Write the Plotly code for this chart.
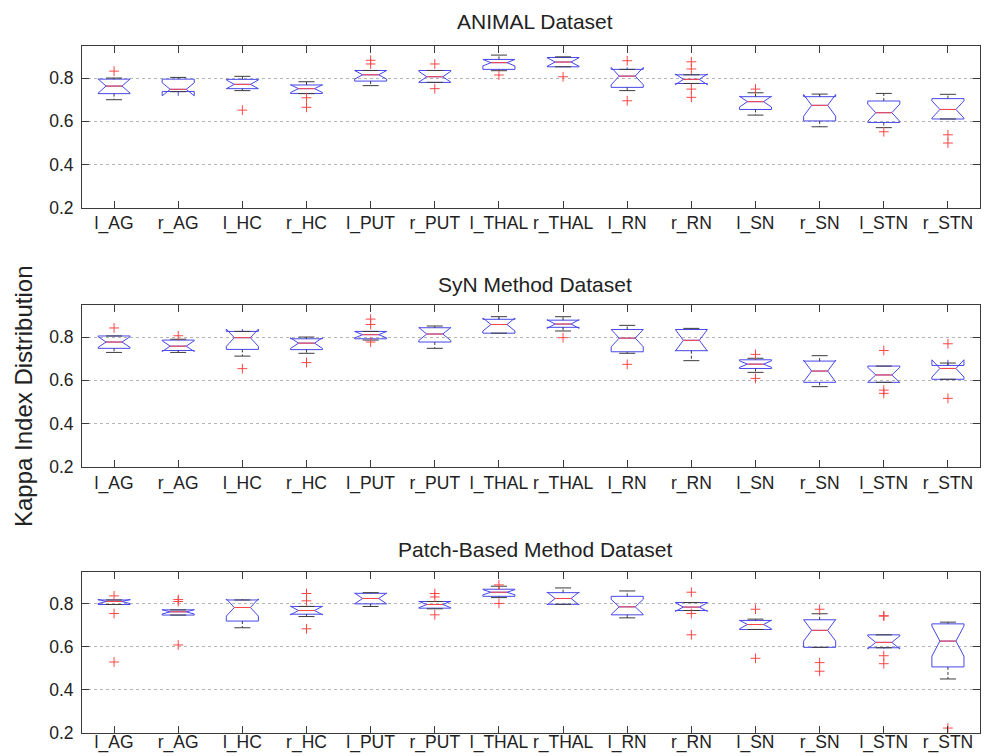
import plotly.graph_objects as go

categories = ["l_AG", "r_AG", "l_HC", "r_HC", "l_PUT", "r_PUT", "l_THAL", "r_THAL",
              "l_RN", "r_RN", "l_SN", "r_SN", "l_STN", "r_STN"]
panel_titles = ["ANIMAL Dataset", "SyN Method Dataset", "Patch-Based Method Dataset"]
y_title = "Kappa Index Distribution"
y_ticks = [0.2, 0.4, 0.6, 0.8]

# ---- ANIMAL Dataset ----
animal_lo = [0.700, 0.737, 0.742, 0.728, 0.765, 0.780, 0.834, 0.852, 0.742, 0.775, 0.629, 0.575, 0.571, 0.611]
animal_q1 = [0.728, 0.738, 0.751, 0.729, 0.786, 0.780, 0.840, 0.852, 0.757, 0.775, 0.655, 0.602, 0.595, 0.611]
animal_med = [0.763, 0.748, 0.771, 0.751, 0.815, 0.806, 0.871, 0.874, 0.809, 0.794, 0.691, 0.674, 0.640, 0.655]
animal_q3 = [0.795, 0.795, 0.794, 0.768, 0.835, 0.835, 0.886, 0.895, 0.840, 0.815, 0.714, 0.714, 0.694, 0.705]
animal_hi = [0.800, 0.803, 0.808, 0.783, 0.835, 0.835, 0.906, 0.898, 0.840, 0.815, 0.732, 0.726, 0.729, 0.725]
animal_notch = [0.033, 0.030, 0.020, 0.018, 0.020, 0.025, 0.015, 0.020, 0.040, 0.025, 0.025, 0.050, 0.040, 0.040]
animal_out = [[0.832], [], [0.652], [0.709, 0.665], [0.882, 0.865], [0.865, 0.751], [0.814], [0.806],
              [0.880, 0.695], [0.875, 0.842, 0.749, 0.711], [0.749], [], [0.552], [0.538, 0.500]]

# ---- SyN Method Dataset ----
syn_lo = [0.729, 0.729, 0.712, 0.725, 0.786, 0.748, 0.818, 0.828, 0.725, 0.691, 0.637, 0.571, 0.591, 0.605]
syn_q1 = [0.748, 0.738, 0.743, 0.742, 0.792, 0.777, 0.818, 0.845, 0.732, 0.737, 0.655, 0.591, 0.591, 0.605]
syn_med = [0.777, 0.758, 0.797, 0.772, 0.811, 0.814, 0.858, 0.860, 0.795, 0.785, 0.675, 0.643, 0.625, 0.655]
syn_q3 = [0.805, 0.786, 0.826, 0.792, 0.826, 0.843, 0.882, 0.878, 0.835, 0.835, 0.695, 0.689, 0.666, 0.669]
syn_hi = [0.805, 0.790, 0.826, 0.800, 0.826, 0.851, 0.894, 0.894, 0.854, 0.840, 0.702, 0.714, 0.666, 0.680]
syn_notch = [0.025, 0.025, 0.040, 0.025, 0.015, 0.030, 0.030, 0.020, 0.040, 0.050, 0.015, 0.050, 0.035, 0.040]
syn_out = [[0.842], [0.806], [0.654], [0.682], [0.883, 0.858, 0.777], [], [], [0.797],
           [0.674], [], [0.720, 0.609], [], [0.738, 0.555, 0.540], [0.769, 0.517]]

# ---- Patch-Based Method Dataset ----
patch_lo = [0.797, 0.748, 0.689, 0.741, 0.788, 0.777, 0.829, 0.798, 0.735, 0.769, 0.681, 0.598, 0.596, 0.451]
patch_q1 = [0.797, 0.748, 0.720, 0.752, 0.800, 0.780, 0.835, 0.798, 0.749, 0.769, 0.681, 0.598, 0.596, 0.507]
patch_med = [0.811, 0.763, 0.783, 0.769, 0.825, 0.797, 0.854, 0.825, 0.786, 0.785, 0.704, 0.677, 0.621, 0.627]
patch_q3 = [0.818, 0.772, 0.818, 0.788, 0.849, 0.811, 0.868, 0.852, 0.835, 0.806, 0.723, 0.726, 0.656, 0.707]
patch_hi = [0.818, 0.772, 0.818, 0.788, 0.852, 0.811, 0.882, 0.874, 0.860, 0.806, 0.729, 0.754, 0.656, 0.715]
patch_notch = [0.010, 0.010, 0.040, 0.020, 0.025, 0.015, 0.012, 0.030, 0.035, 0.020, 0.020, 0.050, 0.030, 0.070]
patch_out = [[0.837, 0.755, 0.530], [0.820, 0.811, 0.609], [], [0.848, 0.814, 0.684], [], [0.848, 0.832, 0.749],
             [0.888, 0.802], [], [], [0.854, 0.755, 0.656], [0.775, 0.547], [0.775, 0.527, 0.487],
             [0.743, 0.745, 0.559, 0.522], [0.223]]

panels = [
    (panel_titles[0], animal_lo, animal_q1, animal_med, animal_q3, animal_hi, animal_notch, animal_out),
    (panel_titles[1], syn_lo, syn_q1, syn_med, syn_q3, syn_hi, syn_notch, syn_out),
    (panel_titles[2], patch_lo, patch_q1, patch_med, patch_q3, patch_hi, patch_notch, patch_out),
]

BLUE = "rgb(70,70,235)"
RED = "rgb(255,70,70)"
WHISK = "rgb(60,60,60)"
AXC = "#3a3a3a"
FONT = "Liberation Sans, Arial, Helvetica, sans-serif"
BOX_W = 0.5
NOTCH_W = 0.25
HALF_CAP = 0.125
HALF_MED = BOX_W / 2 * (1 - 2 * NOTCH_W)

W, H = 987, 756
ML, MR, MT, MB = 82, 7, 46, 23
plot_h = H - MT - MB
plot_w = W - ML - MR

def py2paper(p):
    return (H - MB - p) / plot_h

def px2paper(p):
    return (p - ML) / plot_w

panel_px = [(46, 208), (305, 467), (572, 733)]
title_px = [21, 284, 549.5]
x_label_standoff = [-1, 0, -7]

idx = list(range(len(categories)))
fig = go.Figure()
layout = dict(width=W, height=H, margin=dict(l=ML, r=MR, t=MT, b=MB, autoexpand=False),
              paper_bgcolor="white", plot_bgcolor="white", showlegend=False,
              font=dict(family=FONT, color="#222"))
annotations = []

for k, (title, lo, q1, med, q3, hi, notch, out) in enumerate(panels):
    xa = "x" if k == 0 else f"x{k+1}"
    ya = "y" if k == 0 else f"y{k+1}"
    fig.add_trace(go.Box(
        x=idx, q1=q1, median=med, q3=q3, lowerfence=q1, upperfence=q3,
        notched=True, notchspan=notch, notchwidth=NOTCH_W, width=BOX_W,
        whiskerwidth=0, boxpoints=False,
        line=dict(color=BLUE, width=1), fillcolor="rgba(0,0,0,0)",
        xaxis=xa, yaxis=ya, hoverinfo="skip"))
    # whiskers
    wx, wy, cx, cy = [], [], [], []
    for i in idx:
        if hi[i] > q3[i]:
            wx += [i, i, None]; wy += [q3[i], hi[i], None]
        if lo[i] < q1[i]:
            wx += [i, i, None]; wy += [q1[i], lo[i], None]
        cx += [i - HALF_CAP, i + HALF_CAP, None, i - HALF_CAP, i + HALF_CAP, None]
        cy += [hi[i], hi[i], None, lo[i], lo[i], None]
    fig.add_trace(go.Scatter(x=wx, y=wy, mode="lines", line=dict(color=WHISK, width=1, dash="3px,2px"),
                             xaxis=xa, yaxis=ya, hoverinfo="skip"))
    fig.add_trace(go.Scatter(x=cx, y=cy, mode="lines", line=dict(color=WHISK, width=1),
                             xaxis=xa, yaxis=ya, hoverinfo="skip"))
    # medians
    mx, my = [], []
    for i in idx:
        mx += [i - HALF_MED, i + HALF_MED, None]
        my += [med[i], med[i], None]
    fig.add_trace(go.Scatter(x=mx, y=my, mode="lines", line=dict(color=RED, width=1),
                             xaxis=xa, yaxis=ya, hoverinfo="skip"))
    # outliers
    ox, oy = [], []
    for i in idx:
        for v in out[i]:
            ox.append(i); oy.append(v)
    fig.add_trace(go.Scatter(x=ox, y=oy, mode="markers",
                             marker=dict(symbol="cross-thin", size=7, line=dict(color=RED, width=1)),
                             xaxis=xa, yaxis=ya, hoverinfo="skip"))

    top, bot = panel_px[k]
    xkey = "xaxis" if k == 0 else f"xaxis{k+1}"
    ykey = "yaxis" if k == 0 else f"yaxis{k+1}"
    layout[xkey] = dict(domain=[0, 1], anchor=ya, range=[-0.5, len(categories) - 0.5],
                        tickvals=idx, ticktext=categories, ticks="inside", ticklen=7,
                        tickcolor=AXC, showline=True, linecolor=AXC, linewidth=1,
                        mirror="ticks", showgrid=False, zeroline=False, automargin=False,
                        ticklabelstandoff=x_label_standoff[k],
                        tickfont=dict(size=17.5, family=FONT, color="#222"))
    layout[ykey] = dict(domain=[py2paper(bot), py2paper(top)], anchor=xa, range=[0.2, 0.948],
                        tickvals=y_ticks, ticktext=[f"{t:.1f}" for t in y_ticks],
                        ticks="inside", ticklen=7, tickcolor=AXC, showline=True,
                        linecolor=AXC, linewidth=1, mirror="ticks", automargin=False,
                        showgrid=True, gridcolor="#b5b5b5", griddash="dot", gridwidth=1,
                        zeroline=False, ticklabelstandoff=4,
                        tickfont=dict(size=17.5, family=FONT, color="#222"))
    annotations.append(dict(text=title, x=px2paper(535), y=py2paper(title_px[k]), xref="paper", yref="paper",
                            xanchor="center", yanchor="middle", showarrow=False,
                            font=dict(size=21, family=FONT, color="#222")))

annotations.append(dict(text=y_title, x=px2paper(24), y=py2paper(396), xref="paper", yref="paper",
                        xanchor="center", yanchor="middle", textangle=-90, showarrow=False,
                        font=dict(size=24, family=FONT, color="#222")))
layout["annotations"] = annotations
fig.update_layout(**layout)
fig.write_html("out.html", config={"displayModeBar": False},
               post_script="document.body.style.margin='0';document.body.style.overflow='hidden';")
